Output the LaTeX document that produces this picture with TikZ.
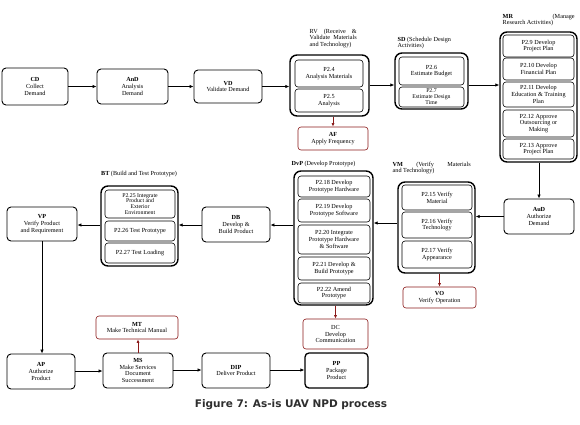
\documentclass[tikz,border=0pt]{standalone}
\usepackage{fontspec}
\setmainfont{Liberation Serif}
\newfontfamily\capfont{DejaVu Sans}
\usetikzlibrary{arrows.meta}
\definecolor{darkred}{HTML}{8B1A1A}
\definecolor{capgray}{HTML}{2E2E2E}
\tikzset{
  every node/.style={font=\fontsize{6.2}{6.7}\selectfont, align=center, inner sep=0.5pt},
  box/.style={draw, rounded corners=4pt, line width=0.9pt},
  thickbox/.style={draw, rounded corners=4pt, line width=1.3pt},
  subbox/.style={draw, rounded corners=3pt, line width=0.6pt},
  outerbox/.style={draw, rounded corners=7pt, line width=1.4pt},
  redbox/.style={draw=darkred, rounded corners=3pt, line width=0.6pt},
  arr/.style={-{Latex[length=4pt,width=3.5pt]}, line width=0.9pt},
  redarr/.style={-{Latex[length=3.5pt,width=3pt]}, line width=0.7pt, draw=darkred, fill=darkred},
  lab/.style={anchor=north west, align=left, font=\fontsize{6.2}{6.8}\selectfont},
  tight/.style={font=\fontsize{5.8}{5.9}\selectfont},
}
\newcommand{\bx}[3]{\node[#1, minimum width=#2pt, minimum height=#3pt]}
\begin{document}
\begin{tikzpicture}[x=1pt,y=-1pt]
\useasboundingbox (0,0) rectangle (580,424);
% Row 1
\bx{box}{66}{37} (cd) at (35,86.5) {\textbf{CD}\\Collect\\Demand};
\bx{box}{71}{35} (and) at (132.5,86.5) {\textbf{AnD}\\Analysis\\Demand};
\bx{box}{68}{33} (vd) at (228,86.5) {\textbf{VD}\\Validate Demand};
% RV
\bx{outerbox}{79}{61} (rv) at (329.5,85.5) {};
\bx{subbox}{68}{27} (p24) at (329,73.5) {P2.4\\Analysis Materials};
\bx{subbox}{68}{23} (p25) at (329,100.5) {P2.5\\Analysis};
\node[lab] (rvl) at (309,28) {\makebox[47pt][s]{RV (Receive \&}\\\makebox[47pt][s]{Validate Materials}\\and Technology)};
\bx{redbox}{70}{23} (af) at (333,138.5) {\textbf{AF}\\Apply Frequency};
% SD
\bx{outerbox}{73}{56} (sd) at (431.5,81) {};
\bx{subbox}{65}{28} (p26) at (431.5,71) {P2.6\\Estimate Budget};
\bx{subbox,tight}{65}{20} (p27) at (431.5,97) {P2.7\\Estimate Design\\Time};
\node[lab] (sdl) at (397,36) {\textbf{SD} (Schedule Design\\Activities)};
% MR
\bx{outerbox}{77}{130} (mr) at (538.5,97) {};
\bx{subbox}{71}{22} (p29) at (538.5,46) {P2.9 Develop\\Project Plan};
\bx{subbox}{71}{22} (p210) at (538.5,69) {P2.10 Develop\\Financial Plan};
\bx{subbox}{71}{25} (p211) at (538.5,94.5) {P2.11 Develop\\Education \& Training\\Plan};
\bx{subbox}{71}{27} (p212) at (538.5,123.5) {P2.12 Approve\\Outsourcing or\\Making};
\bx{subbox}{71}{20} (p213) at (538.5,149) {P2.13 Approve\\Project Plan};
\node[lab] (mrl) at (502,13) {\makebox[72pt][s]{\textbf{MR} (Manage}\\Research Activities)};
% AuD
\bx{box}{70}{35} (aud) at (539,216.5) {\textbf{AuD}\\Authorize\\Demand};
% VM
\bx{outerbox}{77}{91} (vm) at (436.5,227.5) {};
\bx{subbox}{70}{25} (p215) at (437,197.5) {P2.15 Verify\\Material};
\bx{subbox}{70}{26} (p216) at (437,225) {P2.16 Verify\\Technology};
\bx{subbox}{70}{27} (p217) at (437,254.5) {P2.17 Verify\\Appearance};
\node[lab] (vml) at (392,161) {\makebox[78pt][s]{\textbf{VM} (Verify Materials}\\and Technology)};
\bx{redbox}{73}{21} (vo) at (439.5,297.5) {\textbf{VO}\\Verify Operation};
% DvP
\bx{outerbox}{79}{134} (dvp) at (333.5,238) {};
\bx{subbox}{72}{21} (p218) at (334,186.5) {P2.18 Develop\\Prototype Hardware};
\bx{subbox}{72}{23} (p219) at (334,210.5) {P2.19 Develop\\Prototype Software};
\bx{subbox}{72}{29} (p220) at (334,239.5) {P2.20 Integrate\\Prototype Hardware\\\& Software};
\bx{subbox}{72}{23} (p221) at (334,268.5) {P2.21 Develop \&\\Build Prototype};
\bx{subbox}{72}{20} (p222) at (334,293) {P2.22 Amend\\Prototype};
\node[lab, anchor=west] (dvpl) at (291,164) {\textbf{DvP} (Develop Prototype)};
\bx{redbox}{65}{30} (dc) at (335.5,334) {DC\\Develop\\Communication};
% DB, BT, VP
\bx{box}{68}{35} (db) at (236,224.5) {\textbf{DB}\\Develop \&\\Build Product};
\bx{outerbox}{77}{80} (bt) at (139.5,226) {};
\bx{subbox,tight}{70}{28} (p225) at (140,204) {P2.25 Integrate\\Product and\\Exterior\\Environment};
\bx{subbox}{70}{20} (p226) at (140,231) {P2.26 Test Prototype};
\bx{subbox}{70}{20} (p227) at (140,253) {P2.27 Test Loading};
\node[lab, anchor=center] (btl) at (139,174) {\textbf{BT} (Build and Test Prototype)};
\bx{box}{70}{34} (vp) at (42,224) {\textbf{VP}\\Verify Product\\and Requirement};
% bottom row
\bx{box}{68}{35} (ap) at (41,371.5) {\textbf{AP}\\Authorize\\Product};
\bx{box}{70}{35} (ms) at (138,370.5) {\textbf{MS}\\Make Services\\Document\\Successment};
\bx{redbox}{82}{23} (mt) at (137,327.5) {\textbf{MT}\\Make Technical Manual};
\bx{box}{68}{35} (dip) at (236,370.5) {\textbf{DIP}\\Deliver Product};
\bx{thickbox}{63}{35} (pp) at (336.5,370.5) {\textbf{PP}\\Package\\Product};
% caption
\node[font=\capfont\bfseries\fontsize{10.5}{12}\selectfont, text=capgray] (cap) at (291,405) {Figure 7: As-is UAV NPD process};
% arrows
\draw[arr] (cd) -- (and);
\draw[arr] (and) -- (vd);
\draw[arr] (vd.east) -- (vd.east -| rv.west);
\draw[arr] (rv.east |- 0,85) -- (sd.west |- 0,85);
\draw[arr] (sd.east |- 0,85) -- (mr.west |- 0,85);
\draw[redarr] (rv.south -| af.north) -- (af.north);
\draw[arr] (mr.south -| aud.north) -- (aud.north);
\draw[arr] (aud.west) -- (aud.west -| vm.east);
\draw[arr] (vm.west |- 0,223) -- (dvp.east |- 0,223);
\draw[redarr] (vm.south -| vo.north) -- (vo.north);
\draw[arr] (dvp.west |- 0,225) -- (db.east |- 0,225);
\draw[arr] (db.west |- 0,225) -- (bt.east |- 0,225);
\draw[arr] (bt.west |- 0,225) -- (vp.east |- 0,225);
\draw[redarr] (dvp.south -| dc.north) -- (dc.north);
\draw[arr] (vp.south) -- (vp.south |- ap.north);
\draw[arr] (ap.east |- 0,371) -- (ms.west |- 0,371);
\draw[redarr] (ms.north) -- (ms.north |- mt.south);
\draw[arr] (ms.east |- 0,370) -- (dip.west |- 0,370);
\draw[arr] (dip.east |- 0,370) -- (pp.west |- 0,370);
\end{tikzpicture}
\end{document}
